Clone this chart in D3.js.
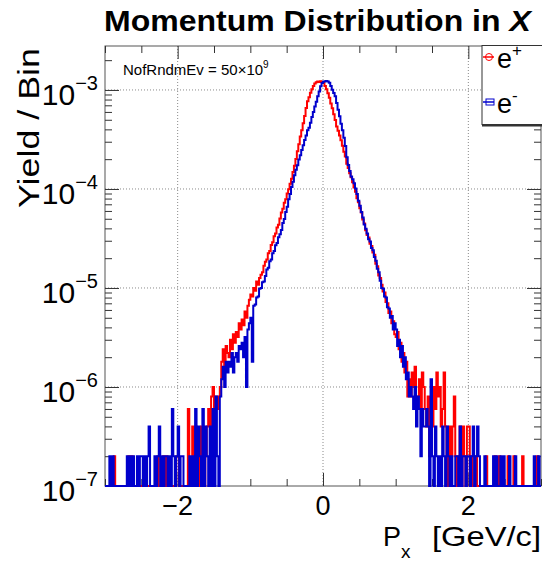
<!DOCTYPE html>
<html>
<head>
<meta charset="utf-8">
<script src="https://cdn.jsdelivr.net/npm/d3@7"></script>
<style>
body { margin:0; background:#fff; }
text { font-family: "Liberation Sans", Arial, Helvetica, sans-serif; fill:#000; }
</style>
</head>
<body>
<svg id="chart"></svg>
<script>
// binning of both histograms
var xMin = -3, xMax = 3, nBins = 300;
// one entry in a bin is this much yield
var yieldPerEntry = 2e-7;
var yTop = 2.78e-3;

var seriesNames = ["e+", "e-"];
var seriesColors = ["#ff0000", "#0000cc"];

// e+ entries per bin, 10 bins per row, from -3 to 3
var posCounts = [
    0,0,0,0,0,0,1,0,0,0,
    0,0,0,0,0,0,1,0,1,0,
    0,0,0,0,0,0,0,0,0,0,
    0,0,0,0,0,0,1,0,0,0,
    1,0,1,0,0,0,0,0,0,1,
    1,0,0,0,0,0,0,3,0,0,
    2,0,2,1,0,1,2,1,0,1,
    2,3,2,4,5,3,4,3,4,5,
    9,12,8,13,11,10,15,12,17,14,
    18,16,22,19,24,21,29,25,33,38,
    43,41,50,47,58,54,63,68,72,84,
    92,97,112,118,136,145,167,178,204,218,
    252,290,315,362,394,450,497,566,633,741,
    858,1003,1205,1412,1690,1955,2310,2732,3290,3840,
    4230,4680,5090,5470,5820,5990,6090,6030,6110,5980,
    5920,5470,5080,4630,4170,3640,3260,2840,2480,2140,
    1942,1738,1551,1368,1190,1062,897,815,721,655,
    585,516,470,404,368,320,289,246,224,192,
    171,162,140,133,114,108,88,83,67,63,
    54,46,45,36,35,28,29,22,23,17,
    16,18,12,14,9,11,7,9,4,6,
    4,7,5,8,3,4,6,3,7,5,
    3,2,4,1,3,2,5,3,7,4,
    5,2,3,7,2,1,0,2,1,2,
    4,1,0,1,2,0,2,1,0,2,
    2,0,1,0,0,1,0,0,0,0,
    0,0,1,0,0,0,0,0,1,0,
    0,1,0,0,0,0,0,1,0,0,
    0,1,0,0,0,0,0,1,0,0,
    0,0,0,0,0,0,0,1,0,0
];

// e- entries per bin
var eleCounts = [
    0,0,0,1,0,1,0,0,0,0,
    0,0,0,0,0,1,0,1,0,1,
    0,0,1,0,1,1,0,1,0,1,
    2,0,0,0,1,0,1,2,0,1,
    0,1,1,0,1,0,3,1,0,1,
    2,0,1,1,0,0,0,0,1,0,
    1,0,3,0,2,1,0,3,0,2,
    1,0,2,0,3,0,4,1,0,4,
    6,8,5,9,7,9,8,11,7,10,
    11,9,13,12,14,10,16,5,19,22,
    25,9,33,34,40,41,49,50,57,58,
    66,77,80,93,97,112,118,135,142,163,
    174,193,226,249,293,331,394,446,524,592,
    686,781,866,990,1094,1238,1383,1561,1733,1958,
    2080,2330,2660,2990,3400,3800,4320,4830,5440,5880,
    6040,6130,6160,6090,5900,5480,5030,4660,4330,3690,
    3160,2710,2280,1960,1650,1360,1045,872,758,668,
    627,570,505,446,381,338,292,258,219,198,
    178,155,147,127,120,103,94,78,72,59,
    50,49,41,40,32,31,25,26,19,22,
    19,13,15,10,13,8,10,6,7,4,
    5,4,3,5,2,4,3,1,3,2,
    2,3,2,0,6,1,0,2,1,0,
    1,0,2,1,0,2,1,0,1,0,
    0,1,1,0,2,0,1,1,0,1,
    1,0,1,2,0,1,2,1,0,0,
    0,1,0,0,0,0,0,1,0,1,
    0,0,1,0,1,0,0,0,1,0,
    0,0,1,0,0,0,0,0,0,0,
    0,0,0,0,0,1,0,0,1,0
];

var xTickValues = [-2, 0, 2];
var xMinorStep = 0.5;
var yTickValues = [1e-7, 1e-6, 1e-5, 1e-4, 1e-3];

var screen = {width:542, height:564};
var frame = {left:105, right:541, top:46, bottom:486};

var svg = d3.select("#chart")
    .attr("width", screen.width)
    .attr("height", screen.height);

var x = d3.scaleLinear()
    .domain([xMin, xMax])
    .range([frame.left, frame.right]);
var y = d3.scaleLog()
    .domain([yTickValues[0], yTop])
    .range([frame.bottom, frame.top]);

var edges = d3.range(nBins + 1).map(function(i)
{
    return xMin + i * (xMax - xMin) / nBins;
});
var xMinor = d3.range(xMin, xMax + 1e-9, xMinorStep).filter(function(v)
{
    return xTickValues.indexOf(v) < 0;
});
var yMinor = y.ticks().filter(function(v)
{
    return yTickValues.indexOf(v) < 0 && v <= yTop;
});

// stretch a text so its width matches the reference
var stretch = function(sel, width)
{
    var w = sel.node().getComputedTextLength();
    return width / w;
};

// grid
var grid = svg.append("g")
    .attr("stroke", "#8a8a8a")
    .attr("stroke-width", 1)
    .attr("stroke-dasharray", "1,2");
grid.selectAll(".gx")
    .data(xTickValues)
    .enter()
    .append("line")
    .attr("x1", function(d){ return x(d); })
    .attr("x2", function(d){ return x(d); })
    .attr("y1", frame.top)
    .attr("y2", frame.bottom);
grid.selectAll(".gy")
    .data(yTickValues.slice(1))
    .enter()
    .append("line")
    .attr("x1", frame.left)
    .attr("x2", frame.right)
    .attr("y1", function(d){ return y(d); })
    .attr("y2", function(d){ return y(d); });

// frame
svg.append("rect")
    .attr("x", frame.left)
    .attr("y", frame.top)
    .attr("width", frame.right - frame.left)
    .attr("height", frame.bottom - frame.top)
    .attr("fill", "none")
    .attr("stroke", "#555")
    .attr("stroke-width", 1);

var addAxis = function(axis, tx, ty)
{
    var g = svg.append("g")
        .attr("transform", "translate(" + tx + "," + ty + ")")
        .attr("color", "#333")
        .call(axis);
    g.select(".domain").remove();
    return g;
};

addAxis(d3.axisBottom(x).tickValues(xTickValues).tickSize(-13).tickFormat(""), 0, frame.bottom);
addAxis(d3.axisBottom(x).tickValues(xMinor).tickSize(-7).tickFormat(""), 0, frame.bottom);
addAxis(d3.axisTop(x).tickValues(xTickValues).tickSize(-13).tickFormat(""), 0, frame.top);
addAxis(d3.axisTop(x).tickValues(xMinor).tickSize(-7).tickFormat(""), 0, frame.top);
addAxis(d3.axisLeft(y).tickValues(yTickValues).tickSize(-14).tickFormat(""), frame.left, 0);
addAxis(d3.axisLeft(y).tickValues(yMinor).tickSize(-7).tickFormat(""), frame.left, 0);
addAxis(d3.axisRight(y).tickValues(yTickValues).tickSize(-14).tickFormat(""), frame.right, 0);
addAxis(d3.axisRight(y).tickValues(yMinor).tickSize(-7).tickFormat(""), frame.right, 0);

// x tick labels
svg.append("g")
    .selectAll("text")
    .data(xTickValues)
    .enter()
    .append("text")
    .attr("x", function(d){ return x(d); })
    .attr("y", frame.bottom + 29)
    .attr("text-anchor", "middle")
    .attr("font-size", 27)
    .text(function(d){ return d < 0 ? "\u2212" + (-d) : d; });

// y tick labels 10^n
var yLabels = svg.append("g")
    .selectAll("text")
    .data(yTickValues)
    .enter()
    .append("text")
    .attr("x", 98)
    .attr("y", function(d){ return y(d) + 15; })
    .attr("text-anchor", "end")
    .attr("font-size", 30)
    .text("10");
yLabels.append("tspan")
    .attr("dy", -15)
    .attr("font-size", 20)
    .text(function(d){ return "\u2212" + Math.round(-Math.log10(d)); });

// histograms
svg.append("clipPath")
    .attr("id", "plotclip")
    .append("rect")
    .attr("x", frame.left)
    .attr("y", frame.top)
    .attr("width", frame.right - frame.left)
    .attr("height", frame.bottom - frame.top + 1);

var histLine = d3.line()
    .x(function(d){ return x(d[0]); })
    .y(function(d){ return y(Math.max(d[1], yTickValues[0])); })
    .curve(d3.curveStepAfter);

var toPoints = function(counts)
{
    var pts = counts.map(function(c, i)
    {
        return [edges[i], c * yieldPerEntry];
    });
    pts.push([edges[nBins], counts[nBins - 1] * yieldPerEntry]);
    return pts;
};

var hists = svg.append("g")
    .attr("clip-path", "url(#plotclip)");
[posCounts, eleCounts].forEach(function(counts, k)
{
    hists.append("path")
        .attr("d", histLine(toPoints(counts)))
        .attr("fill", "none")
        .attr("stroke", seriesColors[k])
        .attr("stroke-width", 2);
});

// legend
var legend = svg.append("g");
legend.append("rect")
    .attr("x", 482)
    .attr("y", 45.5)
    .attr("width", 70)
    .attr("height", 79)
    .attr("fill", "#fff")
    .attr("stroke", "#333")
    .attr("stroke-width", 1);
legend.append("line")
    .attr("x1", 482).attr("x2", 552)
    .attr("y1", 125.5).attr("y2", 125.5)
    .attr("stroke", "#333").attr("stroke-width", 2);

var entryY = [57, 102];
seriesNames.forEach(function(name, k)
{
    legend.append("line")
        .attr("x1", 483).attr("x2", 494)
        .attr("y1", entryY[k]).attr("y2", entryY[k])
        .attr("stroke", seriesColors[k])
        .attr("stroke-width", 1.5);
    if (k == 0)
    {
        legend.append("circle")
            .attr("cx", 489).attr("cy", entryY[k]).attr("r", 3.5)
            .attr("fill", "none").attr("stroke", seriesColors[k]);
    }
    else
    {
        legend.append("rect")
            .attr("x", 486).attr("y", entryY[k] - 3).attr("width", 8).attr("height", 6)
            .attr("fill", "none").attr("stroke", seriesColors[k]);
    }
    var t = legend.append("text")
        .attr("x", 497)
        .attr("y", entryY[k] + 11)
        .attr("font-size", 27)
        .text(name.charAt(0));
    t.append("tspan")
        .attr("dy", -12)
        .attr("font-size", 17)
        .text(name.charAt(1));
});

// event count note
var note = svg.append("text")
    .attr("x", 123)
    .attr("y", 75)
    .attr("font-size", 15)
    .text("NofRndmEv = 50\u00d710");
note.append("tspan")
    .attr("dy", -7)
    .attr("font-size", 10)
    .text("9");

// title
var title = svg.append("text")
    .attr("font-size", 30)
    .attr("font-weight", "bold")
    .text("Momentum Distribution in ");
title.append("tspan")
    .attr("font-style", "italic")
    .text("X");
title.attr("transform", "translate(104,31) scale(" + stretch(title, 427) + ",1)");

// axis titles
var ylab = svg.append("text")
    .attr("font-size", 30)
    .attr("text-anchor", "end")
    .text("Yield / Bin");
ylab.attr("transform", "translate(39,48) rotate(-90) scale(" + stretch(ylab, 160) + ",1)");

svg.append("text")
    .attr("x", 383)
    .attr("y", 546)
    .attr("font-size", 27)
    .text("P");
svg.append("text")
    .attr("x", 401)
    .attr("y", 558)
    .attr("font-size", 19)
    .text("x");
var xunit = svg.append("text")
    .attr("font-size", 27)
    .text("[GeV/c]");
xunit.attr("transform", "translate(432,546) scale(" + stretch(xunit, 109) + ",1)");
</script>
</body>
</html>
